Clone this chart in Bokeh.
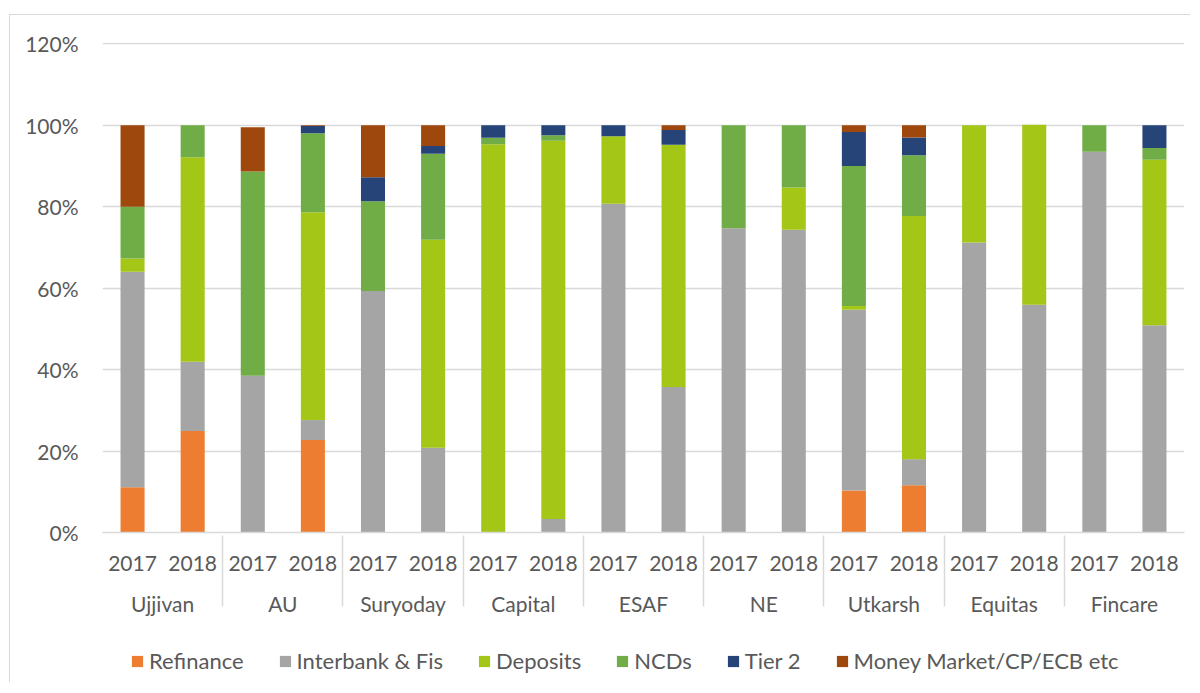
from bokeh.plotting import figure
from bokeh.layouts import column
from bokeh.models import FactorRange, Range1d, FixedTicker, Legend, LegendItem, ColumnDataSource
from bokeh.embed import file_html
from bokeh.resources import INLINE

banks = ["Ujjivan", "AU", "Suryoday", "Capital", "ESAF", "NE", "Utkarsh", "Equitas", "Fincare"]
years = ["2017", "2018"]
series = ["Refinance", "Interbank & Fis", "Deposits", "NCDs", "Tier 2", "Money Market/CP/ECB etc"]
colors = ["#ED7D31", "#A5A5A5", "#A3C617", "#70AD47", "#264478", "#9E480E"]

# order: Ujjivan17, Ujjivan18, AU17, AU18, ...
refinance = [11.1, 24.9, 0, 22.7, 0, 0, 0, 0, 0, 0, 0, 0, 10.3, 11.6, 0, 0, 0, 0]
interbank = [52.9, 17.0, 38.5, 4.9, 59.3, 20.8, 0, 3.3, 80.7, 35.7, 74.7, 74.3, 44.4, 6.4, 71.2, 55.9, 93.5, 50.9]
deposits = [3.3, 50.2, 0, 51.0, 0, 51.1, 95.3, 92.9, 16.6, 59.5, 0, 10.4, 0.9, 59.7, 28.8, 44.2, 0, 40.6]
ncds = [12.7, 7.9, 50.1, 19.4, 22.0, 21.1, 1.6, 1.3, 0, 0, 25.3, 15.3, 34.4, 14.9, 0, 0, 6.5, 2.9]
tier2 = [0, 0, 0, 1.8, 5.9, 1.9, 3.1, 2.5, 2.7, 3.6, 0, 0, 8.3, 4.4, 0, 0, 0, 5.6]
money_market = [20.0, 0, 10.9, 0.2, 12.8, 5.1, 0, 0, 0, 1.2, 0, 0, 1.7, 3.0, 0, 0, 0, 0]

y_ticks = [0, 20, 40, 60, 80, 100, 120]
y_labels = ["0%", "20%", "40%", "60%", "80%", "100%", "120%"]

factors = [(b, y) for b in banks for y in years]
data = {"x": factors}
for name, vals in zip(series, [refinance, interbank, deposits, ncds, tier2, money_market]):
    data[name] = vals
source = ColumnDataSource(data)

FONT = "Lato"
TXT = "#595959"
GRID = "#d9d9d9"

p = figure(x_range=FactorRange(*factors, range_padding=0, group_padding=0, factor_padding=0),
           y_range=Range1d(0, 120.3),
           frame_width=1082, frame_height=490,
           min_border_left=92, min_border_top=27, min_border_right=5, min_border_bottom=96,
           output_backend="svg", toolbar_location=None)
p.outline_line_color = None
p.background_fill_color = "white"

rs = p.vbar_stack(series, x="x", width=0.4, source=source, color=colors, line_color=None)

p.xgrid.grid_line_color = None
p.ygrid.ticker = FixedTicker(ticks=y_ticks)
p.ygrid.grid_line_color = GRID
p.ygrid.grid_line_width = 1.5

p.yaxis.ticker = FixedTicker(ticks=y_ticks)
p.yaxis.major_label_overrides = {t: l for t, l in zip(y_ticks, y_labels)}
p.yaxis.axis_line_color = None
p.yaxis.major_tick_line_color = None
p.yaxis.minor_tick_line_color = None
p.yaxis.major_label_text_font = FONT
p.yaxis.major_label_text_font_size = "21px"
p.yaxis.major_label_text_color = TXT
p.yaxis.major_label_standoff = 18

xa = p.xaxis[0]
xa.axis_line_color = GRID
xa.axis_line_width = 1.5
xa.major_tick_line_color = None
xa.minor_tick_line_color = None
xa.major_label_text_font = FONT
xa.major_label_text_font_size = "21px"
xa.major_label_text_color = TXT
xa.major_label_standoff = 17
xa.group_text_font = FONT
xa.group_text_font_size = "21px"
xa.group_text_color = TXT
xa.group_text_font_style = "normal"
xa.separator_line_color = GRID
xa.separator_line_width = 1.5

# legend in its own strip below the chart (dummy renderers kept outside the visible range)
lg = figure(width=1180, height=54, x_range=Range1d(0, 1), y_range=Range1d(0, 1),
            x_axis_location=None, y_axis_location=None, min_border=0,
            output_backend="svg", toolbar_location=None)
lg.outline_line_color = None
lg.xgrid.grid_line_color = None
lg.ygrid.grid_line_color = None
items = []
for s, c in zip(series, colors):
    r = lg.vbar(x=[-5], top=[-5], bottom=[-6], width=0.4, color=c, line_color=None)
    items.append(LegendItem(label=s, renderers=[r]))
legend = Legend(items=items, orientation="horizontal", location=(28, 8),
                label_text_font=FONT, label_text_font_size="22px", label_text_color=TXT,
                glyph_width=14, glyph_height=14, label_standoff=5, spacing=34,
                border_line_color=None, background_fill_alpha=0, margin=0, padding=5)
lg.add_layout(legend, "center")

layout = column(p, lg, spacing=0)
layout.styles = {"margin-left": "9px", "margin-top": "14px",
                 "border-top": "1px solid #d9d9d9", "border-left": "1px solid #d9d9d9"}

open("out.html", "w").write(file_html(layout, INLINE))
